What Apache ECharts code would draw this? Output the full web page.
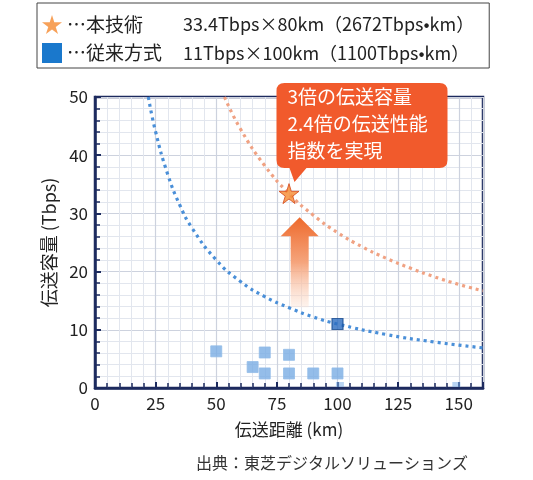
<!DOCTYPE html>
<html>
<head>
<meta charset="utf-8">
<script src="https://cdn.jsdelivr.net/npm/echarts@6/dist/echarts.min.js"></script>
<style>
  html, body { margin: 0; padding: 0; background: #fff; }
  #main { width: 533px; height: 480px; }
</style>
</head>
<body>
<div id="main"></div>
<script>
// 本技術 / 従来方式 の性能曲線 (読み取り値)
var newCurveX = [53.4, 60, 70, 80, 90, 100, 110, 120, 130, 140, 150, 160];
var newCurveY = [50, 44.5, 38.2, 33.4, 29.7, 26.7, 24.3, 22.3, 20.6, 19.1, 17.8, 16.7];
var oldCurveX = [22, 25, 30, 35, 40, 50, 60, 70, 80, 90, 100, 120, 140, 160];
var oldCurveY = [50, 44, 36.7, 31.4, 27.5, 22, 18.3, 15.7, 13.8, 12.2, 11, 9.2, 7.9, 6.9];

// 従来方式の実績点
var pastX = [50, 65, 70, 70, 80, 80, 90, 100];
var pastY = [6.3, 3.6, 6.1, 2.5, 5.7, 2.5, 2.5, 2.5];
var faintX = [101, 149];
var faintY = [0.6, 0.6];
var oldBest = [100, 11];
var newBest = [80, 33.4];

var xTicks = { min: 0, max: 160, interval: 25 };
var yTicks = { min: 0, max: 50, interval: 10 };

var legendNames = ['本技術', '従来方式'];
var legendValues = ['33.4Tbps×80km（2672Tbps•km）', '11Tbps×100km（1100Tbps•km）'];
var calloutLines = ['3倍の伝送容量', '2.4倍の伝送性能', '指数を実現'];

var starPath = 'path://M50,0 L61,35 L98,35 L68,57 L79,91 L50,70 L21,91 L32,57 L2,35 L39,35 Z';
var calloutPath = 'path://M8,0 L163,0 Q171,0 171,8 L171,77 Q171,85 163,85 L30,85 L18,99 L13,85 L8,85 Q0,85 0,77 L0,8 Q0,0 8,0 Z';
var arrowPath = 'path://M19,0 L38,19 L28,19 L28,90 L10,90 L10,19 L0,19 Z';

function pairs(xs, ys) {
  return xs.map(function (x, i) { return [x, ys[i]]; });
}

var font = '"Noto Sans CJK JP", "Noto Sans", sans-serif';
var navy = '#1c2a5e';

var chart = echarts.init(document.getElementById('main'));
chart.setOption({
  animation: false,
  textStyle: { fontFamily: font },
  title: {
    text: '出典：東芝デジタルソリューションズ',
    right: 60,
    bottom: 4,
    textStyle: { fontSize: 16, fontWeight: 'normal', color: '#333', fontFamily: font }
  },
  legend: {
    orient: 'vertical',
    left: 37,
    top: 3,
    padding: [12, 15, 5, 5],
    itemGap: 9,
    itemWidth: 20,
    itemHeight: 20,
    borderColor: '#444',
    borderWidth: 1,
    selectedMode: false,
    data: [
      { name: legendNames[0], icon: starPath, itemStyle: { color: '#f5892f', borderWidth: 0 } },
      { name: legendNames[1], icon: 'rect', itemStyle: { color: '#1a78cc', borderWidth: 0, opacity: 1 } }
    ],
    formatter: function (name) {
      var i = legendNames.indexOf(name);
      return '{a|…' + name + '}{b|' + legendValues[i] + '}';
    },
    textStyle: {
      color: '#222',
      rich: {
        a: { width: 116, fontSize: 19, fontFamily: font, color: '#222' },
        b: { fontSize: 18, fontFamily: font, color: '#222' }
      }
    }
  },
  grid: {
    left: 95, right: 50, top: 97, bottom: 92,
    show: true, borderColor: navy, borderWidth: 2.5
  },
  xAxis: {
    type: 'value',
    min: xTicks.min, max: xTicks.max, interval: xTicks.interval,
    name: '伝送距離 (km)',
    nameLocation: 'middle',
    nameGap: 33,
    nameTextStyle: { fontSize: 17, color: '#222', fontFamily: font },
    axisLine: { lineStyle: { color: navy, width: 2.5 } },
    axisTick: { inside: true, length: 6, lineStyle: { color: navy, width: 2 } },
    minorTick: { show: true, splitNumber: 5, length: 5, lineStyle: { color: navy, width: 1.5 } },
    axisLabel: { fontSize: 17, color: '#222', margin: 7, fontFamily: font,
      showMaxLabel: false },
    splitLine: { lineStyle: { color: '#cdd2de', width: 1.2 } },
    minorSplitLine: { show: true, lineStyle: { color: '#e2e6ee', width: 1 } }
  },
  yAxis: {
    type: 'value',
    min: yTicks.min, max: yTicks.max, interval: yTicks.interval,
    name: '伝送容量 (Tbps)',
    nameLocation: 'middle',
    nameGap: 32,
    nameTextStyle: { fontSize: 18, color: '#222', fontFamily: font },
    axisLine: { show: true, lineStyle: { color: navy, width: 2.5 } },
    axisTick: { show: true, inside: true, length: 6, lineStyle: { color: navy, width: 2 } },
    minorTick: { show: true, splitNumber: 5, length: 5, lineStyle: { color: navy, width: 1.5 } },
    axisLabel: { fontSize: 17, color: '#222', margin: 7, fontFamily: font },
    splitLine: { lineStyle: { color: '#cdd2de', width: 1.2 } },
    minorSplitLine: { show: true, lineStyle: { color: '#e2e6ee', width: 1 } }
  },
  series: [
    {
      name: 'old-curve',
      type: 'line',
      data: pairs(oldCurveX, oldCurveY),
      smooth: true,
      showSymbol: false,
      lineStyle: { color: '#4a8fd8', width: 3.2, type: [3, 4] },
      z: 2
    },
    {
      name: 'new-curve',
      type: 'line',
      data: pairs(newCurveX, newCurveY),
      smooth: true,
      showSymbol: false,
      lineStyle: { color: '#f0a283', width: 3.2, type: [3, 4] },
      z: 2
    },
    {
      name: 'past',
      type: 'scatter',
      data: pairs(pastX, pastY),
      symbol: 'rect',
      symbolSize: 11,
      itemStyle: { color: '#79ade3', borderColor: '#93bde9', borderWidth: 1 },
      z: 3
    },
    {
      name: 'faint',
      type: 'scatter',
      data: pairs(faintX, faintY),
      symbol: 'rect',
      symbolSize: [8, 5],
      itemStyle: { color: 'rgba(130,178,232,0.7)' },
      z: 1
    },
    {
      name: legendNames[1],
      type: 'scatter',
      data: [oldBest],
      symbol: 'rect',
      symbolSize: 11,
      itemStyle: { color: '#2a6cbf', borderColor: '#164a8e', borderWidth: 1.2 },
      z: 4
    },
    {
      name: legendNames[0],
      type: 'scatter',
      data: [newBest],
      symbol: starPath,
      symbolSize: 20,
      itemStyle: { color: '#f5892f', borderColor: '#d4471a', borderWidth: 1 },
      z: 5,
      markPoint: {
        silent: true,
        data: [
          {
            coord: [84.4, 21.6],
            symbol: arrowPath,
            symbolSize: [38, 90],
            itemStyle: {
              color: new echarts.graphic.LinearGradient(0, 0, 0, 1, [
                { offset: 0, color: '#ee6a2c' },
                { offset: 0.5, color: '#f5a47c' },
                { offset: 1, color: 'rgba(252,225,210,0.4)' }
              ])
            },
            label: { show: false }
          },
          {
            coord: newBest,
            symbol: calloutPath,
            symbolSize: [171, 99],
            symbolOffset: [73, -61],
            itemStyle: { color: '#f15a2c' },
            label: {
              show: true,
              position: [11, 0],
              formatter: calloutLines.join('\n'),
              color: '#fff',
              fontSize: 19,
              lineHeight: 27,
              fontFamily: font
            }
          }
        ]
      }
    }
  ]
});
</script>
</body>
</html>
